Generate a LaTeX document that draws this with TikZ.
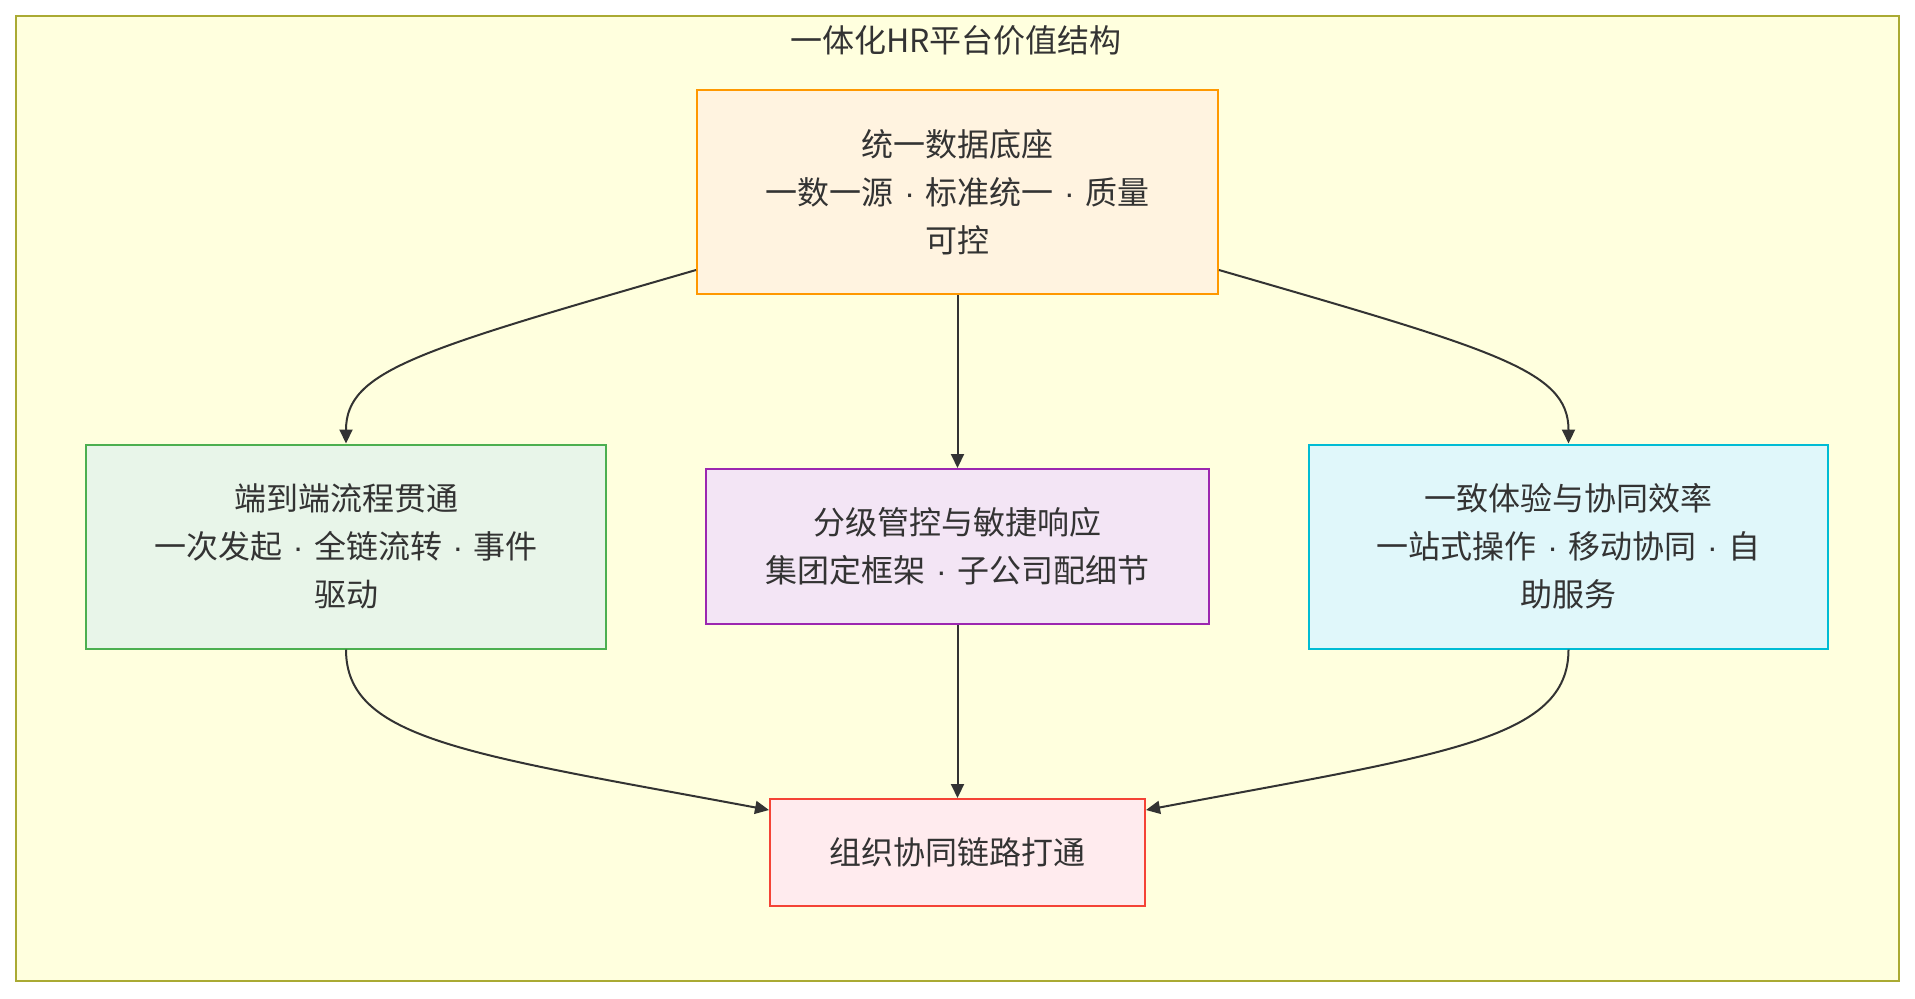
\documentclass[tikz,border=0pt]{standalone}
\usepackage{fontspec}
\setmainfont{Noto Sans CJK SC}
\newfontfamily\latinf{Liberation Sans}
\newcommand{\sepdot}{{\latinf\hspace{0.33em}·\hspace{0.33em}}}
\usetikzlibrary{arrows.meta}
\definecolor{txt}{HTML}{333333}
\definecolor{outerfill}{HTML}{FFFFDE}
\definecolor{outerdraw}{HTML}{AAAA33}
\definecolor{topfill}{HTML}{FFF3E0}
\definecolor{topdraw}{HTML}{FF9800}
\definecolor{leftfill}{HTML}{E8F5E9}
\definecolor{leftdraw}{HTML}{4CAF50}
\definecolor{midfill}{HTML}{F3E5F5}
\definecolor{middraw}{HTML}{9C27B0}
\definecolor{rightfill}{HTML}{E0F7FA}
\definecolor{rightdraw}{HTML}{00BCD4}
\definecolor{botfill}{HTML}{FFEBEE}
\definecolor{botdraw}{HTML}{F44336}
\tikzset{
  box/.style={draw, line width=1pt, inner sep=0pt, align=center, text=txt,
    font=\fontsize{16}{24}\selectfont},
  conn/.style={draw=txt, line width=1pt, -{Triangle[length=7pt,width=6.5pt]}},
}
\begin{document}
\begin{tikzpicture}[x=0.5pt,y=-0.5pt]
\path[use as bounding box, fill=white] (0,0) rectangle (1915,998);
\draw[fill=outerfill, draw=outerdraw, line width=1pt] (16,16) rectangle (1899,981);
\node[text=txt, font=\fontsize{16}{24}\selectfont] (title) at (956,40) {一体化HR平台价值结构};

\node[box, fill=topfill, draw=topdraw, minimum width=260.5pt, minimum height=102pt] (top) at (957.5,192)
  {统一数据底座\\一数一源\sepdot 标准统一\sepdot 质量\\可控};
\node[box, fill=leftfill, draw=leftdraw, minimum width=260.25pt, minimum height=102pt] (left) at (346,546.5)
  {端到端流程贯通\\一次发起\sepdot 全链流转\sepdot 事件\\驱动};
\node[box, fill=midfill, draw=middraw, minimum width=251.5pt, minimum height=77.5pt] (mid) at (957.5,546.5)
  {分级管控与敏捷响应\\集团定框架\sepdot 子公司配细节};
\node[box, fill=rightfill, draw=rightdraw, minimum width=259.5pt, minimum height=102pt] (right) at (1568.5,546.5)
  {一致体验与协同效率\\一站式操作\sepdot 移动协同\sepdot 自\\助服务};
\node[box, fill=botfill, draw=botdraw, minimum width=187.5pt, minimum height=53.5pt] (bot) at (957.5,852.5)
  {组织协同链路打通};

\draw[conn] ([yshift=12.5pt]top.south west) .. controls (420,350) and (346,370) .. (left.north);
\draw[conn] ([yshift=12.5pt]top.south east) .. controls (1495,350) and (1568.5,370) .. (right.north);
\draw[conn] (top.south) -- (mid.north);
\draw[conn] (mid.south) -- (bot.north);
\draw[conn] (left.south) .. controls (346,740) and (469,754) .. ([yshift=-6pt]bot.north west);
\draw[conn] (right.south) .. controls (1568.5,740) and (1444,754) .. ([yshift=-6pt]bot.north east);
\end{tikzpicture}
\end{document}
